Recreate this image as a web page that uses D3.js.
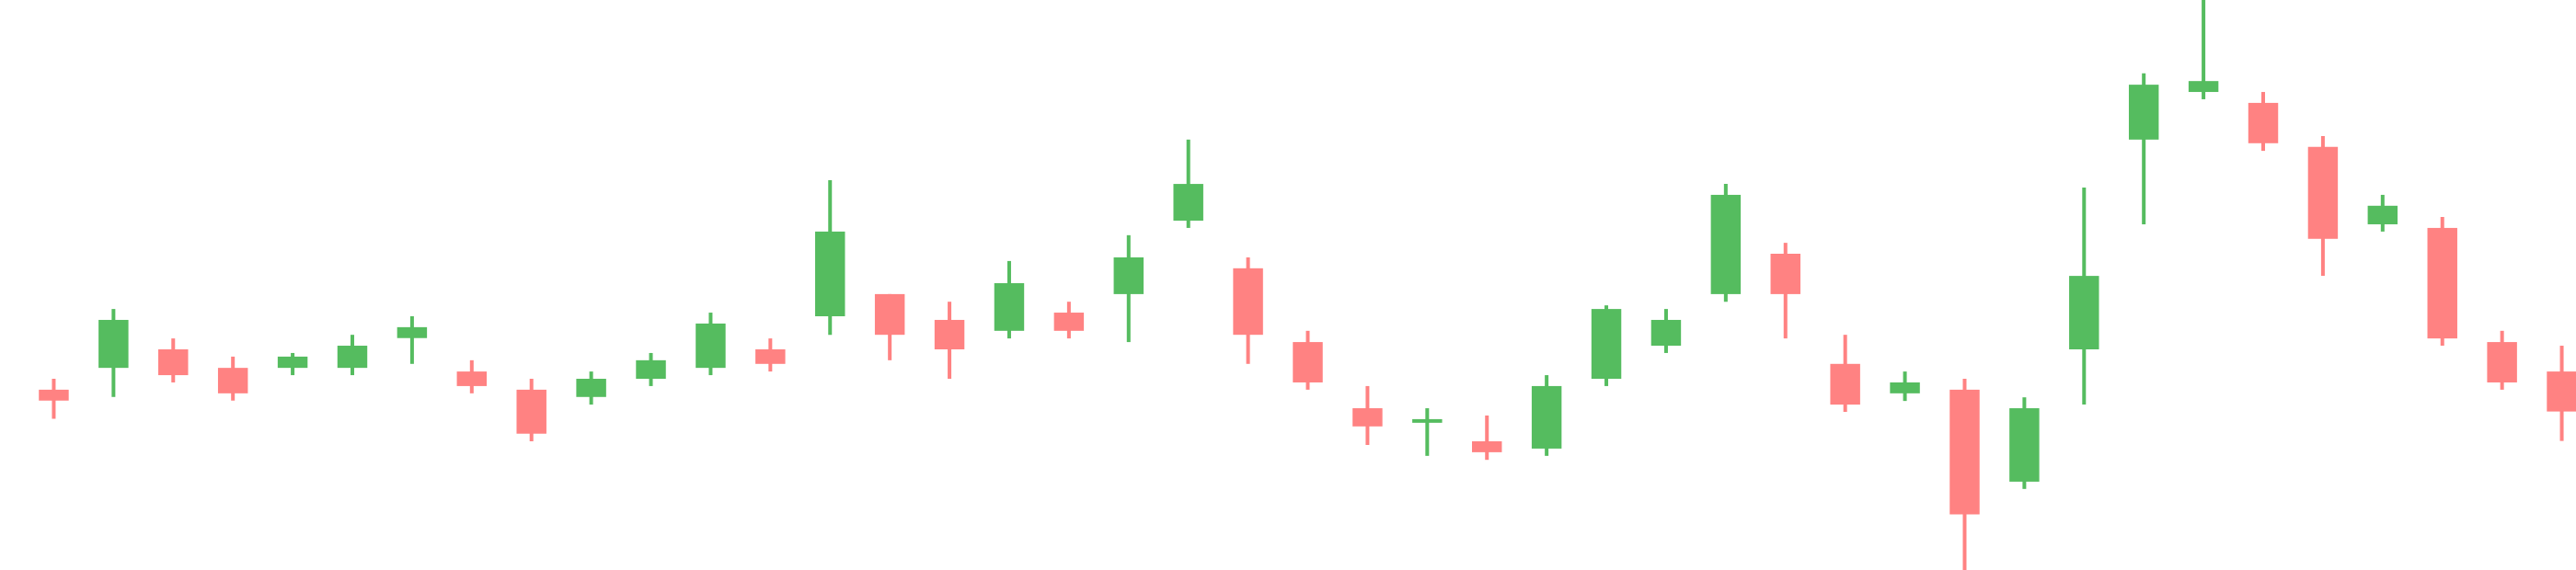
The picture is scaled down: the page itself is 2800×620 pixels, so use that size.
<!DOCTYPE html>
<html>
<head>
<meta charset="utf-8">
<script src="https://cdn.jsdelivr.net/npm/d3@7"></script>
<style>
  html, body { margin: 0; padding: 0; background: #ffffff; }
  svg { display: block; }
</style>
</head>
<body>
<div id="chart"></div>
<script>
const opens  = [92.8, 98.8, 103.9, 98.8, 98.8, 98.8, 107.0, 97.8, 92.8, 90.8,
                95.8, 98.8, 103.9, 113.0, 119.1, 112.0, 109.0, 114.0, 119.1, 139.3,
                126.2, 105.9, 87.7, 83.7, 78.6, 76.6, 95.8, 104.9, 119.1, 130.2,
                99.9, 91.8, 92.8, 67.5, 103.9, 161.6, 174.7, 171.7, 159.6, 138.3,
                137.3, 105.9, 97.8];
const highs  = [95.8, 115.0, 106.9, 101.9, 102.9, 107.9, 113.0, 100.9, 95.8, 97.8,
                102.9, 114.0, 106.9, 150.4, 119.1, 117.0, 128.2, 117.0, 135.3, 161.6,
                129.2, 109.0, 93.8, 87.7, 85.7, 96.8, 116.0, 115.0, 149.4, 133.2,
                107.9, 97.8, 95.8, 90.7, 148.4, 179.8, 200.0, 174.7, 162.6, 146.4,
                140.3, 109.0, 104.9];
const lows   = [84.8, 90.8, 94.8, 89.8, 96.8, 96.8, 99.9, 91.8, 78.6, 88.7,
                93.8, 96.8, 97.8, 107.9, 100.9, 95.8, 106.9, 106.9, 105.9, 137.3,
                99.9, 92.8, 77.6, 74.6, 73.5, 74.6, 93.8, 102.9, 117.0, 106.9,
                86.7, 89.7, 43.2, 65.5, 88.7, 138.3, 172.7, 158.5, 124.1, 136.3,
                104.9, 92.8, 78.7];
const closes = [89.8, 112.0, 96.8, 91.8, 101.9, 104.9, 110.0, 93.8, 80.7, 95.8,
                100.9, 111.0, 99.9, 136.3, 107.9, 103.9, 122.1, 109.0, 129.2, 149.4,
                107.9, 94.8, 82.7, 84.7, 75.6, 93.8, 115.0, 112.0, 146.4, 119.1,
                88.7, 94.8, 58.5, 87.7, 124.1, 176.7, 177.7, 160.6, 134.3, 143.4,
                106.9, 94.8, 86.8];

const UP = "#55bc5f", DOWN = "#ff8282";
const W = 2800, H = 620;

const data = opens.map((o, i) => ({ i, open: o, high: highs[i], low: lows[i], close: closes[i] }));

const x = d3.scaleBand()
  .domain(d3.range(data.length))
  .range([26, 2817])
  .paddingInner(0.5)
  .paddingOuter(0.25);

const y = d3.scaleLinear()
  .domain([d3.min(lows), d3.max(highs)])
  .range([H, 0]);

const svg = d3.select("#chart").append("svg")
  .attr("width", W).attr("height", H);

const g = svg.selectAll("g.candle").data(data).join("g").attr("class", "candle");

g.append("line")
  .attr("x1", d => x(d.i) + x.bandwidth() / 2)
  .attr("x2", d => x(d.i) + x.bandwidth() / 2)
  .attr("y1", d => y(d.high))
  .attr("y2", d => y(d.low))
  .attr("stroke", d => d.close >= d.open ? UP : DOWN)
  .attr("stroke-width", 4);

g.append("rect")
  .attr("x", d => x(d.i))
  .attr("width", x.bandwidth())
  .attr("y", d => y(Math.max(d.open, d.close)))
  .attr("height", d => Math.max(1, Math.abs(y(d.open) - y(d.close))))
  .attr("fill", d => d.close >= d.open ? UP : DOWN);
</script>
</body>
</html>
